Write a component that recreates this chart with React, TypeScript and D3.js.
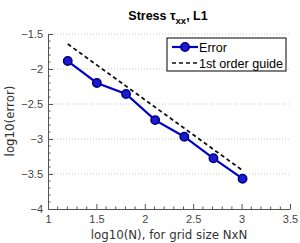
import * as d3 from 'd3';
import React, { useRef, useEffect } from 'react';

const logN = [1.204, 1.505, 1.806, 2.107, 2.408, 2.709, 3.01];
const logErr = [-1.886, -2.2, -2.357, -2.73, -2.967, -3.276, -3.567];
const guideX = [1.204, 3.01];
const guideY = [-1.643, -3.449];
const xTicks = [1, 1.5, 2, 2.5, 3, 3.5];
const yTicks = [-4, -3.5, -3, -2.5, -2, -1.5];

const App = () => {
    const ref = useRef<SVGSVGElement>(null);

    useEffect(() => {
        const svg = d3.select(ref.current);
        svg.selectAll('*').remove();

        const x = d3.scaleLinear().domain([1, 3.5]).range([48, 290]);
        const y = d3.scaleLinear().domain([-4, -1.5]).range([209, 34]);
        const font = 'Liberation Sans, Arial, sans-serif';
        const wide = 'DejaVu Sans, sans-serif';
        const axisCol = '#555';

        // grid
        svg.append('g')
            .selectAll('line')
            .data(yTicks.filter((t) => t > -4))
            .join('line')
            .attr('x1', x(1)).attr('x2', x(3.5))
            .attr('y1', (d) => y(d)).attr('y2', (d) => y(d))
            .attr('stroke', '#bbb')
            .attr('stroke-width', 0.8)
            .attr('stroke-dasharray', '1,2');

        // axes
        const xAxis = d3.axisBottom(x).tickValues(xTicks).tickSizeInner(-5).tickSizeOuter(0)
            .tickFormat((d: any) => String(d)).tickPadding(6);
        const gx = svg.append('g').attr('transform', `translate(0,${y(-4)})`).call(xAxis);
        const yAxis = d3.axisLeft(y).tickValues(yTicks).tickSizeInner(-5).tickSizeOuter(0)
            .tickFormat((d: any) => String(d).replace('-', '\u2212')).tickPadding(5);
        const gy = svg.append('g').attr('transform', `translate(${x(1)},0)`).call(yAxis);
        [gx, gy].forEach((g) => {
            g.select('.domain').attr('stroke', axisCol);
            g.selectAll('.tick line').attr('stroke', axisCol);
            g.selectAll('text').attr('fill', '#444').attr('font-family', font).attr('font-size', 11);
        });

        // minor ticks
        const minorX = d3.range(1, 3.51, 0.1).filter((v) => Math.abs(v * 2 - Math.round(v * 2)) > 0.01);
        svg.append('g').selectAll('line').data(minorX).join('line')
            .attr('x1', (d) => x(d)).attr('x2', (d) => x(d))
            .attr('y1', y(-4)).attr('y2', y(-4) - 2.5)
            .attr('stroke', axisCol);
        const minorY = d3.range(-4, -1.49, 0.1).filter((v) => Math.abs(v * 2 - Math.round(v * 2)) > 0.01);
        svg.append('g').selectAll('line').data(minorY).join('line')
            .attr('x1', x(1)).attr('x2', x(1) + 2.5)
            .attr('y1', (d) => y(d)).attr('y2', (d) => y(d))
            .attr('stroke', axisCol);

        // guide
        const guide = guideX.map((v, i) => [v, guideY[i]] as [number, number]);
        svg.append('path')
            .attr('d', d3.line().x((d) => x(d[0])).y((d) => y(d[1]))(guide))
            .attr('fill', 'none').attr('stroke', '#111').attr('stroke-width', 1.8)
            .attr('stroke-dasharray', '4,3');

        // error series
        const pts = logN.map((v, i) => [v, logErr[i]] as [number, number]);
        svg.append('path')
            .attr('d', d3.line().x((d) => x(d[0])).y((d) => y(d[1]))(pts))
            .attr('fill', 'none').attr('stroke', '#0000c8').attr('stroke-width', 2.2);
        svg.append('g').selectAll('circle').data(pts).join('circle')
            .attr('cx', (d) => x(d[0])).attr('cy', (d) => y(d[1])).attr('r', 4.2)
            .attr('fill', '#1a1ad0').attr('stroke', '#000080').attr('stroke-width', 1.5);

        // legend
        const lg = svg.append('g');
        lg.append('rect').attr('x', 167).attr('y', 38).attr('width', 119).attr('height', 33)
            .attr('fill', 'white').attr('stroke', '#000').attr('stroke-width', 1);
        lg.append('line').attr('x1', 172).attr('x2', 198).attr('y1', 47).attr('y2', 47)
            .attr('stroke', '#0000c8').attr('stroke-width', 2.2);
        lg.append('circle').attr('cx', 185).attr('cy', 47).attr('r', 4.2)
            .attr('fill', '#1a1ad0').attr('stroke', '#000080').attr('stroke-width', 1.5);
        lg.append('line').attr('x1', 172).attr('x2', 198).attr('y1', 63).attr('y2', 63)
            .attr('stroke', '#111').attr('stroke-width', 1.5).attr('stroke-dasharray', '4,3');
        lg.append('text').attr('x', 199).attr('y', 51.5).text('Error')
            .attr('font-family', font).attr('font-size', 12.6);
        lg.append('text').attr('x', 199).attr('y', 67.5).text('1st order guide')
            .attr('font-family', font).attr('font-size', 12.6);

        // title
        const title = svg.append('text').attr('x', 168).attr('y', 20).attr('text-anchor', 'middle')
            .attr('font-family', font).attr('font-size', 12.5).attr('font-weight', 'bold');
        title.append('tspan').text('Stress \u03c4');
        title.append('tspan').attr('dy', 4).attr('font-size', 9.5).text('xx');
        title.append('tspan').attr('dy', -4).text(', L1');

        // axis labels
        svg.append('text').attr('x', 169).attr('y', 239).attr('text-anchor', 'middle')
            .attr('font-family', wide).attr('font-size', 11.8).attr('fill', '#333')
            .text('log10(N), for grid size NxN');
        svg.append('text').attr('transform', 'translate(14,121) rotate(-90)').attr('text-anchor', 'middle')
            .attr('font-family', wide).attr('font-size', 11.8).attr('fill', '#333')
            .text('log10(error)');
    }, []);

    return (
        <svg ref={ref} width={300} height={243}
            style={{ position: 'absolute', left: 0, top: 0, background: 'white' }} />
    );
};

export default App;
